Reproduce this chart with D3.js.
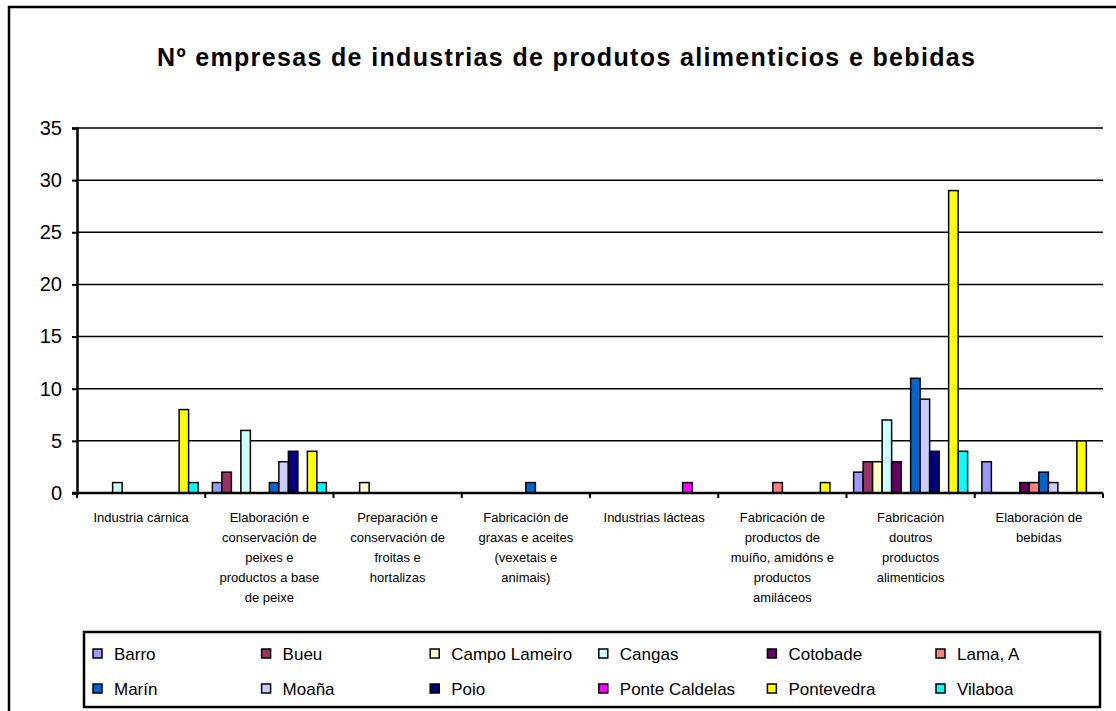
<!DOCTYPE html>
<html>
<head>
<meta charset="utf-8">
<script src="https://cdn.jsdelivr.net/npm/d3@7"></script>
<style>
	body { margin: 0; background: #fff; }
	svg { display: block; font-family: "Liberation Sans", Arial, sans-serif; }
	.grid line { stroke: #000; stroke-width: 1.5; }
	.bar { stroke: #000; stroke-width: 1.5; }
</style>
</head>
<body>
<svg id="chart" width="1116" height="711"></svg>
<script>
"use strict";

// categories as printed under the axis (line breaks as in the chart)
var categories = [
	"Industria cárnica",
	"Elaboración e\nconservación de\npeixes e\nproductos a base\nde peixe",
	"Preparación e\nconservación de\nfroitas e\nhortalizas",
	"Fabricación de\ngraxas e aceites\n(vexetais e\nanimais)",
	"Industrias lácteas",
	"Fabricación de\nproductos de\nmuíño, amidóns e\nproductos\namiláceos",
	"Fabricación\ndoutros\nproductos\nalimenticios",
	"Elaboración de\nbebidas"
];

var municipios = ["Barro", "Bueu", "Campo Lameiro", "Cangas", "Cotobade", "Lama, A",
	"Marín", "Moaña", "Poio", "Ponte Caldelas", "Pontevedra", "Vilaboa"];

var colours = ["#9999FF", "#993366", "#FFFFCC", "#CCFFFF", "#660066", "#FF8080",
	"#0066CC", "#CCCCFF", "#000080", "#FF00FF", "#FFFF00", "#00FFFF"];

// one array per municipality, values in category order
var barro         = [0, 1, 0, 0, 0, 0, 2, 3];
var bueu          = [0, 2, 0, 0, 0, 0, 3, 0];
var campoLameiro  = [0, 0, 1, 0, 0, 0, 3, 0];
var cangas        = [1, 6, 0, 0, 0, 0, 7, 0];
var cotobade      = [0, 0, 0, 0, 0, 0, 3, 1];
var lama          = [0, 0, 0, 0, 0, 1, 0, 1];
var marin         = [0, 1, 0, 1, 0, 0, 11, 2];
var moana         = [0, 3, 0, 0, 0, 0, 9, 1];
var poio          = [0, 4, 0, 0, 0, 0, 4, 0];
var ponteCaldelas = [0, 0, 0, 0, 1, 0, 0, 0];
var pontevedra    = [8, 4, 0, 0, 0, 1, 29, 5];
var vilaboa       = [1, 1, 0, 0, 0, 0, 4, 0];

var yTicks = [0, 5, 10, 15, 20, 25, 30, 35];

var title = "Nº empresas de industrias de produtos alimenticios e bebidas";

var series = [barro, bueu, campoLameiro, cangas, cotobade, lama,
	marin, moana, poio, ponteCaldelas, pontevedra, vilaboa];

function draw() {
	var svg = d3.select("#chart");

	var plot = { left: 77, right: 1103, top: 128, bottom: 493 };

	// outer chart frame (runs off the right and bottom of the picture)
	svg.append("rect")
		.attr("x", 9).attr("y", 7)
		.attr("width", 1130).attr("height", 730)
		.attr("fill", "none").attr("stroke", "#000").attr("stroke-width", 2.5);

	// title is stretched a little, like the original
	svg.append("text")
		.attr("x", 566).attr("y", 66)
		.attr("text-anchor", "middle")
		.attr("font-size", 25).attr("font-weight", "bold")
		.attr("textLength", 818).attr("lengthAdjust", "spacing")
		.text(title);

	var x = d3.scaleBand()
		.domain(d3.range(categories.length))
		.range([plot.left, plot.right]);

	var xInner = d3.scaleBand()
		.domain(d3.range(municipios.length))
		.range([0, x.bandwidth()])
		.paddingOuter(0.75);

	var y = d3.scaleLinear()
		.domain([0, 35])
		.range([plot.bottom, plot.top]);

	// gridlines
	svg.append("g")
		.attr("class", "grid")
		.selectAll("line")
		.data(yTicks.filter(d=>d > 0))
		.join("line")
		.attr("x1", plot.left).attr("x2", plot.right)
		.attr("y1", d=>y(d)).attr("y2", d=>y(d));

	// bars
	var flat = [];
	series.forEach((vals, s)=>{
		vals.forEach((v, c)=>{
			if (v > 0) flat.push({ s: s, c: c, v: v });
		});
	});
	svg.append("g")
		.selectAll("rect")
		.data(flat)
		.join("rect")
		.attr("class", "bar")
		.attr("x", d=>x(d.c) + xInner(d.s))
		.attr("y", d=>y(d.v))
		.attr("width", xInner.bandwidth())
		.attr("height", d=>y(0) - y(d.v))
		.attr("fill", d=>colours[d.s]);

	// y axis
	var yAxis = d3.axisLeft(y).tickValues(yTicks).tickSize(5).tickPadding(10);
	var gy = svg.append("g")
		.attr("transform", `translate(${plot.left},0)`)
		.call(yAxis);
	gy.select(".domain").attr("stroke-width", 2.5);
	gy.selectAll(".tick line").attr("stroke-width", 2);
	gy.selectAll("text")
		.attr("font-family", "Liberation Sans, Arial, sans-serif")
		.attr("font-size", 20).attr("fill", "#000");

	// x axis baseline and category boundary ticks
	var gx = svg.append("g");
	gx.append("line")
		.attr("x1", plot.left - 5).attr("x2", plot.right)
		.attr("y1", plot.bottom).attr("y2", plot.bottom)
		.attr("stroke", "#000").attr("stroke-width", 2.5);
	gx.selectAll(".xt")
		.data(d3.range(categories.length + 1))
		.join("line")
		.attr("class", "xt")
		.attr("x1", d=>plot.left + d * x.step()).attr("x2", d=>plot.left + d * x.step())
		.attr("y1", plot.bottom).attr("y2", plot.bottom + 5)
		.attr("stroke", "#000").attr("stroke-width", 2);

	// category labels
	var labels = gx.selectAll(".cat")
		.data(categories)
		.join("text")
		.attr("class", "cat")
		.attr("text-anchor", "middle")
		.attr("font-size", 13);
	labels.each(function(d, i) {
		var lines = d.split("\n");
		d3.select(this).selectAll("tspan")
			.data(lines)
			.join("tspan")
			.attr("x", x(i) + x.bandwidth() / 2)
			.attr("y", (l, j)=>522 + j * 20)
			.text(l=>l);
	});

	// legend
	var leg = { left: 84, top: 632, right: 1100, bottom: 707 };
	svg.append("rect")
		.attr("x", leg.left).attr("y", leg.top)
		.attr("width", leg.right - leg.left).attr("height", leg.bottom - leg.top)
		.attr("fill", "#fff").attr("stroke", "#000").attr("stroke-width", 2.5);

	var cols = d3.scalePoint().domain(d3.range(6)).range([93, 936]);
	var items = svg.append("g")
		.selectAll("g")
		.data(municipios)
		.join("g")
		.attr("transform", (d, i)=>`translate(${cols(i % 6)},${i < 6 ? 655 : 690})`);
	items.append("rect")
		.attr("x", 0).attr("y", -6)
		.attr("width", 9).attr("height", 9)
		.attr("fill", (d, i)=>colours[i])
		.attr("stroke", "#000").attr("stroke-width", 1.5);
	items.append("text")
		.attr("x", 21).attr("y", 5)
		.attr("font-size", 17)
		.text(d=>d);
}

draw();
</script>
</body>
</html>
